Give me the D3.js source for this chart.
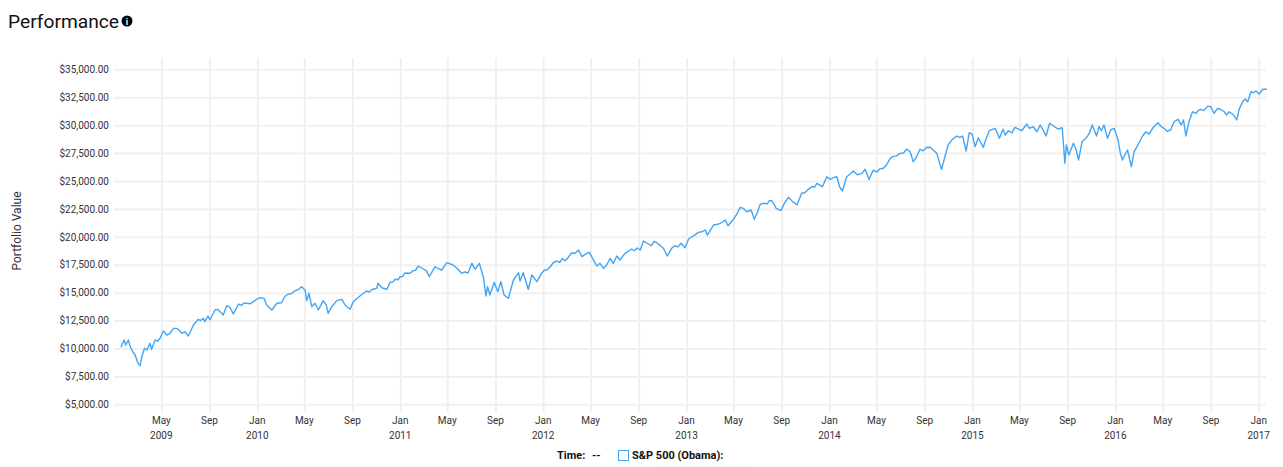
<!DOCTYPE html>
<html><head><meta charset="utf-8">
<script src="https://cdn.jsdelivr.net/npm/d3@7"></script>
<style>
html,body{margin:0;padding:0;background:#fff;overflow:hidden}
svg{display:block}
text{font-family:Roboto,sans-serif}
.domain{display:none}
.gx line,.gy line{stroke:#f0f0f0;stroke-width:2}
.gy text,.gx text{fill:#333;font-size:10px}
</style></head><body><svg id="c" width="1283" height="467"></svg>
<script>
const firstDay = new Date(2009,0,18);
const dayOffsets = [0,3,8,12,19,23,30,36,43,49,53,60,66,74,78,87,100,108,117,125,134,142,155,163,172,185,197,210,214,222,227,240,253,261,270,278,287,300,321,338,355,365,372,385,398,410,427,444,461,470,474,480,487,495,504,516,524,529,538,551,564,572,585,593,598,610,627,641,653,656,667,679,687,713,725,738,759,772,787,802,819,832,848,858,870,886,896,904,915,925,932,936,942,953,962,970,978,989,1002,1015,1019,1027,1040,1049,1062,1074,1096,1113,1138,1151,1168,1177,1196,1215,1223,1232,1240,1249,1257,1266,1274,1287,1304,1326,1334,1347,1368,1385,1395,1406,1430,1440,1449,1474,1492,1497,1513,1543,1550,1564,1581,1598,1609,1617,1640,1662,1673,1685,1704,1726,1738,1755,1777,1791,1802,1828,1835,1842,1853,1870,1892,1900,1910,1921,1947,1964,1989,2015,2023,2030,2040,2066,2083,2095,2112,2134,2149,2158,2166,2173,2181,2189,2202,2217,2232,2243,2252,2258,2288,2300,2313,2329,2339,2347,2362,2371,2385,2403,2407,2410,2414,2420,2432,2439,2445,2454,2467,2480,2491,2497,2510,2519,2527,2536,2546,2551,2557,2563,2570,2580,2587,2601,2617,2634,2648,2663,2680,2689,2699,2707,2713,2719,2727,2736,2757,2783,2791,2800,2817,2829,2841,2849,2855,2864,2877,2885,2898,2906,2915,2926];
const portfolioValues = [10105,10400,10758,10310,10760,10220,9710,9415,8700,8460,9260,10015,9860,10460,9915,10758,10940,11560,11200,11360,11800,11800,11360,11500,11115,12100,12610,12700,12400,12905,12550,13445,13290,13000,13830,13685,13085,13980,14045,14190,14545,14490,13890,13445,14045,14100,14880,15170,15530,15235,14280,14940,13740,14045,13445,14280,13890,13150,13740,14280,14400,13890,13505,14190,14340,14700,15145,15280,15390,15835,15415,15300,15925,16425,16760,16730,17385,17115,16425,17320,17025,17680,17475,17180,16730,16760,17625,17090,17625,16425,14700,15530,14790,15925,15085,15980,14790,14490,16130,16785,16040,16785,15300,16580,15980,16730,17320,17830,17985,18575,18815,18220,18610,17385,17625,17180,17475,18070,17625,18280,17920,18520,18905,18815,19620,19355,19470,18970,18280,18970,19415,19025,19775,20400,20610,20160,21055,21505,20995,21565,22640,22245,22400,21565,23000,23230,22550,22340,23535,22850,23895,24250,24790,24485,25380,25380,24460,24100,25380,25890,25685,26045,25145,25980,26135,27030,27475,27620,26725,27055,27835,28015,27475,26045,28220,29025,29025,27685,29320,29205,28070,28845,28015,29500,29715,28820,29625,29115,29715,29500,30100,29860,29410,30010,29025,30165,29830,29785,28070,26580,28220,27325,28370,27770,26875,28515,28965,30010,29025,29860,30010,28820,29565,29715,28670,27620,26875,27325,27775,26275,27620,28515,29410,29715,30215,29715,29565,30305,30520,30010,30460,29025,30305,31200,31415,31650,31060,31505,31200,31200,30905,30460,31415,32100,32100,32995,33055,32790,33210,33210];
const detailDays = [93,148,203,247,307,314,330,346,418,435,452,634,694,700,707,719,745,752,780,810,878,1081,1088,1104,1120,1127,1133,1159,1186,1205,1311,1318,1354,1361,1376,1414,1422,1457,1465,1483,1521,1530,1537,1572,1589,1625,1632,1650,1656,1694,1715,1746,1765,1771,1810,1819,1861,1880,1930,1938,1955,1972,1980,1998,2006,2048,2057,2122,2141,2208,2266,2275,2282,2320,2354,2393,2473,2503,2608,2625,2640,2655,2671,2745,2751,2765,2775,2808,2823,2870,2891];
const detailValues = [10650,11650,12500,13500,13850,14080,14000,14400,14650,14900,15250,15050,15950,16200,16150,16450,16950,17000,16950,17150,16850,17000,17050,17700,17700,18050,17850,18500,18450,18000,18750,19000,19200,19600,19250,19200,19100,20000,20150,20450,21100,21200,21350,22000,22550,22200,22900,22950,23250,23000,23150,23950,24500,24450,25150,25300,25600,25550,25800,26100,26450,27200,27250,27500,27850,27700,28000,28700,28900,28700,29500,29300,29800,29700,29600,29650,29300,29500,29000,29200,29950,29900,29450,31050,31350,31300,31700,31400,30900,32350,32900];
const yTicks = [5000,7500,10000,12500,15000,17500,20000,22500,25000,27500,30000,32500,35000];
const tickMonths = ["2009-05","2009-09","2010-01","2010-05","2010-09","2011-01","2011-05","2011-09","2012-01","2012-05","2012-09","2013-01","2013-05","2013-09","2014-01","2014-05","2014-09","2015-01","2015-05","2015-09","2016-01","2016-05","2016-09","2017-01"];
const yearLabelMonths = ["2009-05","2010-01","2011-01","2012-01","2013-01","2014-01","2015-01","2016-01","2017-01"];
const titleText = "Performance", yTitle = "Portfolio Value", timeLabel = "Time:", timeValue = "--", seriesName = "S&P 500 (Obama):";

const parseM = d3.timeParse("%Y-%m");
const svg = d3.select("#c");
const plotLeft=114,plotRight=1266,plotTop=58,plotBottom=412.5;
const x = d3.scaleTime().domain([new Date(2010,0,1),new Date(2017,0,1)]).range([257.3,1258.7]);
const y = d3.scaleLinear().domain([5000,35000]).range([404.3,69.3]);

svg.append("g").attr("class","gy").attr("transform",`translate(${plotLeft},0)`)
  .call(d3.axisLeft(y).tickValues(yTicks).tickSize(-(plotRight-plotLeft)).tickPadding(5).tickFormat(d3.format("$,.2f")));
const gx = svg.append("g").attr("class","gx").attr("transform",`translate(0,${plotBottom})`)
  .call(d3.axisBottom(x).tickValues(tickMonths.map(parseM)).tickSize(-(plotBottom-plotTop)).tickPadding(3).tickFormat(d3.timeFormat("%b")));
gx.selectAll("text").attr("y",8.5).attr("dy","0.32em").attr("dx",-0.5);
svg.append("g").attr("class","gx").attr("transform",`translate(0,${plotBottom})`)
  .call(d3.axisBottom(x).tickValues(yearLabelMonths.map(parseM)).tickSize(0).tickFormat(d3.timeFormat("%Y")))
  .selectAll("text").attr("y",23).attr("dy","0.32em").attr("dx",-0.5);

const pts = dayOffsets.map((d,i)=>({d,v:portfolioValues[i]}))
  .concat(detailDays.map((d,i)=>({d,v:detailValues[i]})))
  .sort((a,b)=>a.d-b.d)
  .map(p=>({date:d3.timeDay.offset(firstDay,p.d),v:p.v}));
svg.append("path").datum(pts).attr("fill","none").attr("stroke","#42a5f5").attr("stroke-width",1.4)
  .attr("stroke-linejoin","round")
  .attr("d",d3.line().x(d=>x(d.date)).y(d=>y(d.v)));

svg.append("text").attr("x",8).attr("y",28).attr("font-size",19.2).attr("fill","#111").text(titleText);
svg.append("circle").attr("cx",127).attr("cy",21).attr("r",5.5).attr("fill","#000");
svg.append("text").attr("x",127).attr("y",24.5).attr("text-anchor","middle").attr("font-size",9).attr("font-weight",700).attr("fill","#fff").text("i");

svg.append("text").attr("transform","translate(21,231) rotate(-90)").attr("text-anchor","middle").attr("font-size",12).attr("fill","#333").text(yTitle);

svg.append("text").attr("x",557).attr("y",459).attr("font-size",11).attr("font-weight",700).attr("fill","#111").text(timeLabel);
svg.append("text").attr("x",592).attr("y",459).attr("font-size",11).attr("font-weight",700).attr("fill","#111").text(timeValue);
svg.append("rect").attr("x",618.5).attr("y",450.5).attr("width",10).attr("height",10).attr("fill","#fff").attr("stroke","#42a5f5").attr("stroke-width",1);
svg.append("text").attr("x",632).attr("y",459).attr("font-size",11).attr("font-weight",700).attr("fill","#111").text(seriesName);
svg.append("rect").attr("x",662).attr("y",466).attr("width",86).attr("height",1).attr("fill","#f7f7f7");
</script></body></html>
